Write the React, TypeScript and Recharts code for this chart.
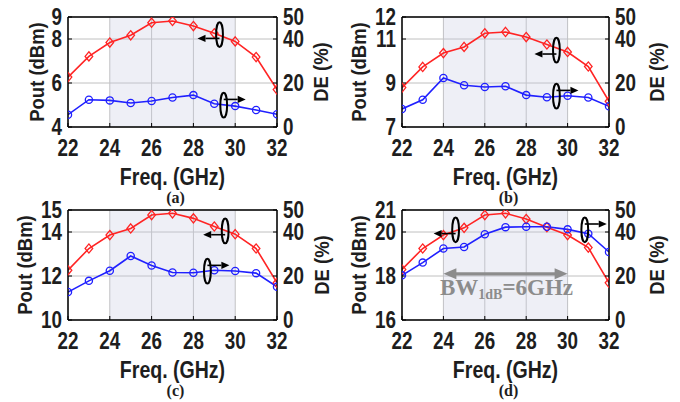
import React from 'react';
import {
  ComposedChart,
  Line,
  XAxis,
  YAxis,
  CartesianGrid,
  ReferenceArea,
  ReferenceLine,
  ReferenceDot,
} from 'recharts';

// Frequency sweep (GHz) shared by all four panels
const FREQ = [22, 23, 24, 25, 26, 27, 28, 29, 30, 31, 32];
const FREQ_TICKS = [22, 24, 26, 28, 30, 32];
const DE_TICKS = [0, 20, 40, 50];

// Output power (dBm) and drain efficiency (%) per panel
const POUT_A = [6.27, 7.21, 7.84, 8.17, 8.74, 8.82, 8.59, 8.26, 7.89, 7.18, 5.7];
const DE_A = [5.6, 12.4, 12.1, 10.9, 11.8, 13.4, 14.5, 10.6, 9.5, 7.7, 5.8];
const POUT_TICKS_A = [4, 6, 8, 9];

const POUT_B = [8.79, 9.73, 10.36, 10.64, 11.26, 11.32, 11.09, 10.75, 10.41, 9.75, 8.17];
const DE_B = [8.2, 12.4, 22.3, 19.0, 18.2, 18.5, 14.5, 13.5, 14.2, 13.4, 9.4];
const POUT_TICKS_B = [7, 9, 11, 12];

const POUT_C = [12.26, 13.25, 13.86, 14.16, 14.77, 14.85, 14.62, 14.25, 13.9, 13.25, 11.69];
const DE_C = [12.7, 17.8, 22.4, 29.1, 24.8, 21.6, 21.5, 22.6, 22.3, 21.3, 15.1];
const POUT_TICKS_C = [10, 12, 14, 15];

const POUT_D = [18.3, 19.25, 19.86, 20.19, 20.77, 20.85, 20.59, 20.22, 19.86, 19.29, 17.69];
const DE_D = [20.3, 26.1, 32.5, 33.2, 39.0, 42.2, 42.4, 42.4, 41.2, 39.2, 30.9];
const POUT_TICKS_D = [16, 18, 20, 21];

const RED = '#ff2424';
const BLUE = '#2020ff';
const INK = '#1e1e1e';
const SANS = '"Liberation Sans", Arial, sans-serif';
const SERIF = '"Liberation Serif", "Times New Roman", serif';

const CHART_W = 340;
const CHART_H = 212;
const PLOT_TOP = 17;
const PLOT_H = 110;

const TICK_FS = 23;
const TICK_SX = 0.82;

function LeftTick(props: any) {
  const { x, y, payload } = props;
  return (
    <text
      transform={`translate(${x},${y}) scale(${TICK_SX},1)`}
      textAnchor="end"
      dy="0.36em"
      fontFamily={SANS}
      fontWeight="bold"
      fontSize={TICK_FS}
      fill={INK}
    >
      {payload.value}
    </text>
  );
}

function RightTick(props: any) {
  const { x, y, payload } = props;
  return (
    <text
      transform={`translate(${x},${y}) scale(${TICK_SX},1)`}
      textAnchor="start"
      dy="0.36em"
      fontFamily={SANS}
      fontWeight="bold"
      fontSize={TICK_FS}
      fill={INK}
    >
      {payload.value}
    </text>
  );
}

function BottomTick(props: any) {
  const { x, payload } = props;
  const baseline = PLOT_TOP + PLOT_H + 29;
  return (
    <text
      transform={`translate(${x},${baseline}) scale(${TICK_SX},1)`}
      textAnchor="middle"
      fontFamily={SANS}
      fontWeight="bold"
      fontSize={TICK_FS}
      fill={INK}
    >
      {payload.value}
    </text>
  );
}

function VerticalTitle({ x, text }: { x: number; text: string }) {
  const y = PLOT_TOP + PLOT_H / 2;
  return (
    <text
      transform={`translate(${x},${y}) rotate(-90) scale(0.88,1)`}
      textAnchor="middle"
      dy="0.36em"
      fontFamily={SANS}
      fontWeight="bold"
      fontSize={21}
      fill={INK}
    >
      {text}
    </text>
  );
}

function Diamond(props: any) {
  const { cx, cy } = props;
  if (cx == null || cy == null) return null;
  const h = 4.6;
  const w = 3.8;
  return (
    <polygon
      points={`${cx},${cy - h} ${cx + w},${cy} ${cx},${cy + h} ${cx - w},${cy}`}
      fill="none"
      stroke={RED}
      strokeWidth={1.3}
    />
  );
}

function Ring(props: any) {
  const { cx, cy } = props;
  if (cx == null || cy == null) return null;
  return <circle cx={cx} cy={cy} r={3.6} fill="none" stroke={BLUE} strokeWidth={1.3} />;
}

// Ellipse around a curve with an arrow pointing to the axis it belongs to
function AxisPointer({ cx, cy, dir }: { cx: number; cy: number; dir: 'left' | 'right' }) {
  const ay = dir === 'left' ? cy + 3.8 : cy - 5.8;
  const len = 22;
  const tip = dir === 'left' ? cx - len : cx + len;
  const back = dir === 'left' ? tip + 8 : tip - 8;
  return (
    <g>
      <ellipse cx={cx} cy={cy} rx={3.4} ry={12.4} fill="none" stroke="#000" strokeWidth={2} />
      <line x1={cx} y1={ay} x2={back} y2={ay} stroke="#000" strokeWidth={1.6} />
      <polygon points={`${tip},${ay} ${back},${ay - 3.6} ${back},${ay + 3.6}`} fill="#000" />
    </g>
  );
}

function BandwidthArrow(props: any) {
  const { x1, y1, x2 } = props;
  if (x1 == null) return null;
  const gray = '#8c8c8c';
  const head = 13;
  const hh = 5.5;
  const mid = (x1 + x2) / 2;
  return (
    <g>
      <line x1={x1 + head - 1} y1={y1} x2={x2 - head + 1} y2={y1} stroke={gray} strokeWidth={3.2} />
      <polygon points={`${x1},${y1} ${x1 + head},${y1 - hh} ${x1 + head},${y1 + hh}`} fill={gray} />
      <polygon points={`${x2},${y1} ${x2 - head},${y1 - hh} ${x2 - head},${y1 + hh}`} fill={gray} />
      <text
        x={mid + 1}
        y={y1 + 21}
        textAnchor="middle"
        fontFamily={SERIF}
        fontWeight="bold"
        fontSize={23}
        fill={gray}
      >
        BW
        <tspan fontSize={14} dy={4}>
          1dB
        </tspan>
        <tspan dy={-4}>=6GHz</tspan>
      </text>
    </g>
  );
}

type PanelProps = {
  left: number;
  top: number;
  leftW: number;
  rightW: number;
  pout: number[];
  de: number[];
  poutTicks: number[];
  tag: string;
  poutTitleX: number;
  deTitleX: number;
  redNote: [number, number];
  blueNote: [number, number];
  bandwidth?: { from: number; to: number; level: number };
};

function Panel(p: PanelProps) {
  const data = FREQ.map((f, i) => ({ f, pout: p.pout[i], de: p.de[i] }));
  const yMin = p.poutTicks[0];
  const yMax = p.poutTicks[p.poutTicks.length - 1];
  const plotW = CHART_W - p.leftW - p.rightW;
  const cx = p.leftW + plotW / 2;
  const xAxisH = CHART_H - PLOT_TOP - PLOT_H;

  const xTitle = () => (
    <g>
      <text
        transform={`translate(${cx},${PLOT_TOP + PLOT_H + 58}) scale(0.85,1)`}
        textAnchor="middle"
        fontFamily={SANS}
        fontWeight="bold"
        fontSize={23}
        fill={INK}
      >
        Freq. (GHz)
      </text>
      <text
        x={cx + 3}
        y={PLOT_TOP + PLOT_H + 76}
        textAnchor="middle"
        fontFamily={SERIF}
        fontWeight="bold"
        fontSize={16}
        fill={INK}
      >
        {p.tag}
      </text>
    </g>
  );

  return (
    <div style={{ position: 'absolute', left: p.left, top: p.top }}>
      <ComposedChart
        width={CHART_W}
        height={CHART_H}
        data={data}
        margin={{ top: PLOT_TOP, right: 0, bottom: 0, left: 0 }}
      >
        <ReferenceArea
          x1={24}
          x2={30}
          yAxisId="pout"
          fill="#c6c9e0"
          fillOpacity={0.3}
          stroke="none"
          ifOverflow="extendDomain"
        />
        <CartesianGrid yAxisId="pout" stroke="#c0c0c0" strokeWidth={1} />
        <XAxis
          dataKey="f"
          type="number"
          domain={[22, 32]}
          ticks={FREQ_TICKS}
          allowDataOverflow
          height={xAxisH}
          axisLine={{ stroke: '#000', strokeWidth: 1.5 }}
          tickLine={{ stroke: '#000' }}
          tickSize={-4}
          tickMargin={10}
          tick={<BottomTick />}
          interval={0}
          label={xTitle}
        />
        <YAxis
          yAxisId="pout"
          domain={[yMin, yMax]}
          ticks={p.poutTicks}
          allowDataOverflow
          width={p.leftW}
          axisLine={{ stroke: '#000', strokeWidth: 1.5 }}
          tickLine={{ stroke: '#000' }}
          tickSize={-4}
          tickMargin={10}
          tick={<LeftTick />}
          interval={0}
          label={() => <VerticalTitle x={p.poutTitleX} text="Pout (dBm)" />}
        />
        <YAxis
          yAxisId="de"
          orientation="right"
          domain={[0, 50]}
          ticks={DE_TICKS}
          allowDataOverflow
          width={p.rightW}
          axisLine={{ stroke: '#000', strokeWidth: 1.5 }}
          tickLine={{ stroke: '#000' }}
          tickSize={-4}
          tickMargin={10}
          tick={<RightTick />}
          interval={0}
          label={() => <VerticalTitle x={p.deTitleX} text="DE (%)" />}
        />
        <ReferenceLine yAxisId="pout" y={yMax} stroke="#000" strokeWidth={1.5} />
        <Line
          yAxisId="pout"
          dataKey="pout"
          stroke={RED}
          strokeWidth={1.6}
          dot={<Diamond />}
          activeDot={false}
          isAnimationActive={false}
        />
        <Line
          yAxisId="de"
          dataKey="de"
          stroke={BLUE}
          strokeWidth={1.6}
          dot={<Ring />}
          activeDot={false}
          isAnimationActive={false}
        />
        {p.bandwidth && (
          <ReferenceLine
            yAxisId="pout"
            segment={[
              { x: p.bandwidth.from, y: p.bandwidth.level },
              { x: p.bandwidth.to, y: p.bandwidth.level },
            ]}
            shape={<BandwidthArrow />}
          />
        )}
        <ReferenceDot
          yAxisId="pout"
          x={p.redNote[0]}
          y={p.redNote[1]}
          shape={(s: any) => <AxisPointer cx={s.cx} cy={s.cy} dir="left" />}
        />
        <ReferenceDot
          yAxisId="de"
          x={p.blueNote[0]}
          y={p.blueNote[1]}
          shape={(s: any) => <AxisPointer cx={s.cx} cy={s.cy} dir="right" />}
        />
      </ComposedChart>
    </div>
  );
}

export default function App() {
  return (
    <div
      style={{
        position: 'absolute',
        left: 0,
        top: 0,
        width: 680,
        height: 402,
        background: '#fff',
        overflow: 'hidden',
      }}
    >
      <Panel
        left={0}
        top={0}
        leftW={68}
        rightW={63}
        pout={POUT_A}
        de={DE_A}
        poutTicks={POUT_TICKS_A}
        tag="(a)"
        poutTitleX={36}
        deTitleX={320}
        redNote={[29.25, 8.2]}
        blueNote={[29.45, 9.9]}
      />
      <Panel
        left={340}
        top={0}
        leftW={62}
        rightW={71}
        pout={POUT_B}
        de={DE_B}
        poutTicks={POUT_TICKS_B}
        tag="(b)"
        poutTitleX={18.5}
        deTitleX={316}
        redNote={[29.46, 10.49]}
        blueNote={[29.46, 14.0]}
      />
      <Panel
        left={0}
        top={193}
        leftW={68}
        rightW={63}
        pout={POUT_C}
        de={DE_C}
        poutTicks={POUT_TICKS_C}
        tag="(c)"
        poutTitleX={24}
        deTitleX={321}
        redNote={[29.52, 14.05]}
        blueNote={[28.67, 22.2]}
      />
      <Panel
        left={340}
        top={193}
        leftW={62}
        rightW={71}
        pout={POUT_D}
        de={DE_D}
        poutTicks={POUT_TICKS_D}
        tag="(d)"
        poutTitleX={18.5}
        deTitleX={316}
        redNote={[24.59, 20.1]}
        blueNote={[30.83, 41.0]}
        bandwidth={{ from: 24, to: 30, level: 18.1 }}
      />
    </div>
  );
}
